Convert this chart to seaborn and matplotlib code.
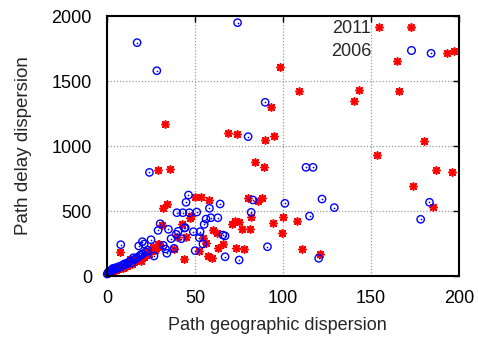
import numpy as np
import pandas as pd
import matplotlib
matplotlib.use("Agg")
import matplotlib.pyplot as plt
from matplotlib.lines import Line2D
import seaborn as sns

# 2011 measurements: geographic dispersion vs delay dispersion
x_2011 = [154.7, 164.9, 193.2, 197.2, 109.0, 143.1, 140.1, 166.1, 180.1, 98.0,
          93.0, 32.9, 68.9, 73.9, 89.8, 94.9, 153.2, 187.0, 196.1, 174.0,
          185.0, 100.1, 108.0, 99.1, 111.0, 121.1, 28.9, 35.9, 83.9, 89.1,
          33.9, 31.9, 50.0, 53.2, 58.1, 80.0, 86.0, 88.0, 81.8, 94.2,
          80.9, 76.9, 78.0, 73.1, 70.9, 72.7, 75.0, 66.1, 63.2, 59.5,
          57.5, 43.9, 60.0, 62.3, 51.9, 54.4, 56.2, 47.5, 47.0, 42.4,
          44.8, 39.6, 31.0, 29.1, 38.0, 26.2, 23.0, 7.1, 29.7, 23.4,
          12.9, 7.3,
          0.0, 1.0, 2.0, 3.0, 4.0, 5.0, 6.0, 8.0, 9.0, 10.0,
          11.0, 12.0, 13.0, 14.0, 15.0, 16.0, 18.0, 19.0, 20.0, 21.0,
          22.0, 24.0, 25.0, 27.0, 28.0, 30.0]
y_2011 = [1915, 1656, 1713, 1733, 1425, 1431, 1346, 1421, 1041, 1610,
          1298, 1169, 1100, 1095, 1044, 1077, 928, 813, 803, 695,
          531, 456, 426, 328, 210, 167, 815, 826, 877, 841,
          556, 521, 605, 605, 585, 602, 579, 597, 451, 405,
          362, 362, 205, 218, 400, 425, 418, 244, 213, 136,
          154, 133, 354, 333, 192, 290, 251, 461, 445, 397,
          298, 298, 395, 246, 210, 221, 185, 182, 244, 192,
          128, 64,
          20, 25, 35, 40, 45, 50, 55, 65, 60, 75,
          80, 90, 100, 95, 110, 120, 130, 115, 140, 150,
          160, 170, 190, 200, 215, 230]

# 2006 measurements
x_2006 = [17.0, 28.2, 74.1, 89.8, 80.1, 184.1, 183.2, 178.2, 113.0, 117.0,
          101.0, 122.1, 129.1, 115.0, 120.2, 91.1, 75.0, 67.0, 67.0, 82.8,
          81.8, 46.2, 44.8, 64.2, 58.1, 39.6, 43.0, 46.7, 50.9, 56.2,
          58.9, 62.9, 55.1, 44.3, 65.7, 49.0, 52.8, 52.4, 54.4, 50.0,
          38.0, 24.0, 24.9, 31.9, 33.1, 33.9, 21.0, 17.9, 26.6, 19.1,
          7.7, 30.1, 28.9, 34.8, 36.3, 42.2, 39.2, 40.3, 43.9, 20.0,
          14.9, 9.2, 3.5,
          0.0, 0.5, 1.0, 2.0, 2.5, 3.0, 4.0, 5.0, 6.0, 7.0,
          8.0, 9.0, 10.0, 11.0, 12.0, 13.0, 14.0, 15.0, 16.0, 17.0,
          18.0, 19.0, 20.0, 22.0, 23.0]
y_2006 = [1795, 1579, 1949, 1336, 1072, 1713, 567, 436, 836, 836,
          559, 592, 526, 461, 136, 225, 123, 308, 148, 585,
          490, 623, 567, 554, 521, 487, 487, 487, 492, 438,
          448, 448, 397, 372, 315, 341, 341, 295, 246, 195,
          213, 797, 279, 236, 208, 175, 246, 231, 154, 162,
          241, 402, 351, 359, 287, 287, 321, 344, 369, 264,
          141, 85, 59,
          15, 25, 35, 30, 45, 55, 50, 65, 60, 75,
          70, 85, 95, 90, 105, 115, 100, 125, 130, 140,
          150, 160, 170, 185, 200]

df11 = pd.DataFrame({"x": x_2011, "y": y_2011})
df06 = pd.DataFrame({"x": x_2006, "y": y_2006})

sns.set_style("white")
plt.rcParams["font.family"] = ["Liberation Sans", "DejaVu Sans"]

fig = plt.figure(figsize=(4.78, 3.37), dpi=100)
ax = fig.add_axes([0.2243, 0.181, 0.7360, 0.7715])

red = "#ff0000"
blue = "#0000ff"

sns.scatterplot(data=df11, x="x", y="y", ax=ax, marker=(8, 2, 0), s=26,
                color=red, edgecolor=red, linewidth=1.2, clip_on=False, zorder=3)
sns.scatterplot(data=df06, x="x", y="y", ax=ax, marker="o", s=28,
                facecolor="none", edgecolor=blue, linewidth=1.0, clip_on=False, zorder=4)
sns.scatterplot(data=df06, x="x", y="y", ax=ax, marker="o", s=1.5,
                color=blue, edgecolor=blue, linewidth=0, clip_on=False, zorder=4)

ax.set_xlim(0, 200)
ax.set_ylim(0, 2000)
ax.set_xticks([0, 50, 100, 150, 200])
ax.set_yticks([0, 500, 1000, 1500, 2000])
ax.grid(True, color="#9a9a9a", linestyle=(0, (1, 1.5)), linewidth=0.9)
ax.set_axisbelow(True)
for sp in ax.spines.values():
    sp.set_color("black")
    sp.set_linewidth(1.5)
    sp.set_zorder(5)
ax.tick_params(direction="in", length=4, width=1, top=True, right=True,
               labelsize=13, colors="black")
ax.tick_params(axis="y", pad=11)
ax.tick_params(axis="x", pad=10)
ax.set_xlabel("Path geographic dispersion", fontsize=13)
ax.set_ylabel("Path delay dispersion", fontsize=13.5, labelpad=14)
ax.xaxis.set_label_coords(0.485, -0.156)

handles = [
    Line2D([], [], linestyle="none", marker=(8, 2, 0), markersize=6,
           markeredgecolor=red, markeredgewidth=1.2, color=red),
    Line2D([], [], linestyle="none", marker="o", markersize=5.5,
           markerfacecolor="none", markeredgecolor=blue, markeredgewidth=1.0),
]
ax.legend(handles, ["2011", "2006"], loc="upper right", markerfirst=False,
          frameon=False, fontsize=13, handlelength=2.0, handletextpad=1.2,
          labelspacing=0.32, bbox_to_anchor=(0.935, 1.012), borderaxespad=0.0)

fig.savefig("out.png", dpi=100)
